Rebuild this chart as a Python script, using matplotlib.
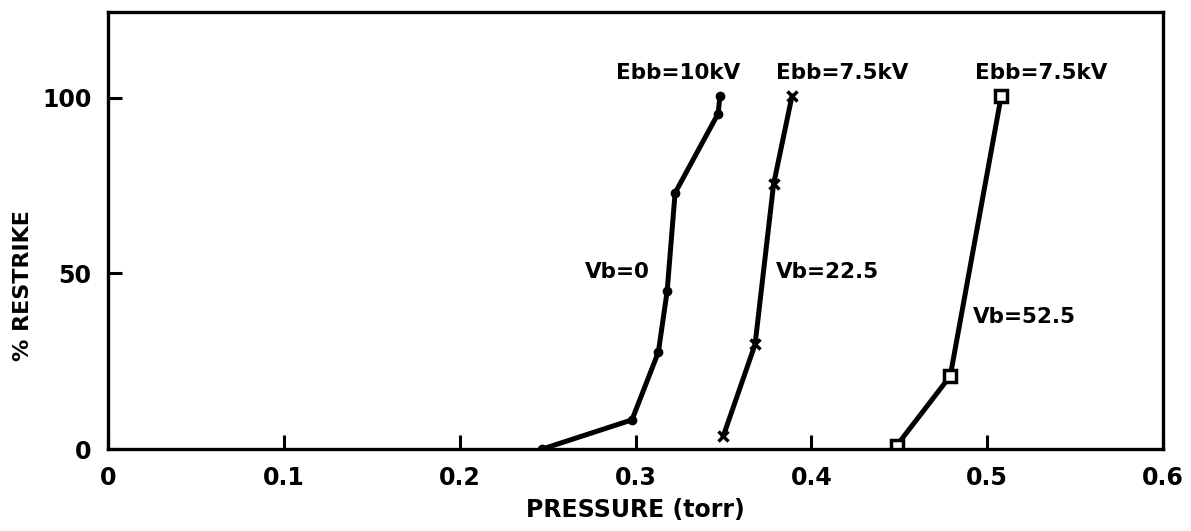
import matplotlib
matplotlib.use("Agg")
import matplotlib.pyplot as plt

# Data
p_vb0 = [0.247, 0.298, 0.313, 0.318, 0.3225, 0.347, 0.348]
r_vb0 = [0, 8.3, 27.6, 45, 72.9, 95.5, 100.5]

p_vb22 = [0.350, 0.368, 0.3785, 0.389]
r_vb22 = [3.8, 29.8, 75.3, 100.5]

p_vb52 = [0.4486, 0.479, 0.508]
r_vb52 = [1, 20.8, 100.5]

x_ticks = [0, 0.1, 0.2, 0.3, 0.4, 0.5, 0.6]
x_tick_labels = ["0", "0.1", "0.2", "0.3", "0.4", "0.5", "0.6"]
y_ticks = [0, 50, 100]

plt.rcParams['font.family'] = ['DejaVu Sans']
plt.rcParams['font.weight'] = 'bold'
plt.rcParams['axes.labelweight'] = 'bold'

fig = plt.figure(figsize=(11.91, 5.31), dpi=100)
ax = fig.add_axes([0.0907, 0.1544, 0.8858, 0.823])

ax.plot(p_vb0, r_vb0, color='black', lw=3.6, marker='o', ms=6)
ax.plot(p_vb22, r_vb22, color='black', lw=3.6, marker='x', ms=7, mew=2.5)
ax.plot(p_vb52, r_vb52, color='black', lw=3.6, marker='s', ms=9,
        mfc='white', mec='black', mew=2.5)

# curve annotations
ax.text(0.3242, 107, "Ebb=10kV", ha='center', va='center', fontsize=15.5)
ax.text(0.4175, 107, "Ebb=7.5kV", ha='center', va='center', fontsize=15.5)
ax.text(0.5307, 107, "Ebb=7.5kV", ha='center', va='center', fontsize=15.5)
ax.text(0.2898, 50.4, "Vb=0", ha='center', va='center', fontsize=15.5)
ax.text(0.4093, 50.4, "Vb=22.5", ha='center', va='center', fontsize=15.5)
ax.text(0.521, 37.6, "Vb=52.5", ha='center', va='center', fontsize=15.5)

ax.set_xlim(0, 0.6)
ax.set_ylim(0, 124.4)
ax.set_xticks(x_ticks)
ax.set_xticklabels(x_tick_labels)
ax.set_yticks(y_ticks)
ax.tick_params(direction='in', length=10, width=2.2, labelsize=17)
ax.tick_params(axis='x', pad=12)
ax.tick_params(axis='y', pad=12)
for s in ax.spines.values():
    s.set_linewidth(2.4)

ax.set_xlabel("PRESSURE (torr)", fontsize=17)
ax.xaxis.set_label_coords(0.5, -0.112)
ax.set_ylabel("% RESTRIKE", fontsize=16)
ax.yaxis.set_label_coords(-0.071, 0.375)

fig.savefig("out.png", dpi=100)
